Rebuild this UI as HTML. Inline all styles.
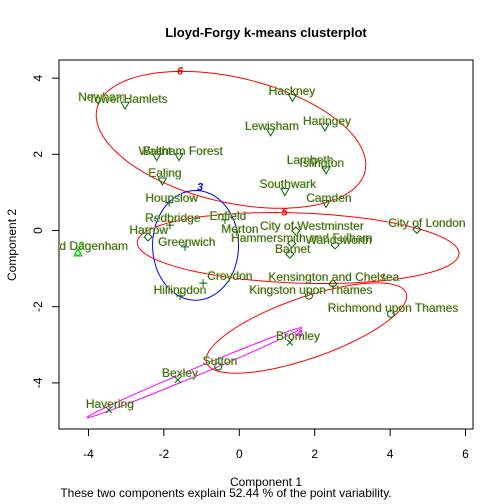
<!DOCTYPE html>
<html><head><meta charset="utf-8">
<style>
html,body{margin:0;padding:0;background:#fff;}
svg{display:block;font-family:"Liberation Sans",sans-serif;}
</style></head>
<body>
<svg id="chart" width="504" height="504" viewBox="0 0 504 504" xmlns="http://www.w3.org/2000/svg">
<defs><clipPath id="clip"><rect x="59" y="60" width="414" height="369"/></clipPath></defs>
<text x="266" y="37" text-anchor="middle" font-size="13" font-weight="bold">Lloyd-Forgy k-means clusterplot</text>
<rect x="59" y="60" width="414" height="369" fill="none" stroke="#000" stroke-width="1"/>
<g id="axes"></g>
<g id="ellipses" clip-path="url(#clip)"></g>
<g id="points" clip-path="url(#clip)"></g>
<g id="labels" clip-path="url(#clip)"></g>
<text x="266" y="486" text-anchor="middle" font-size="12">Component 1</text>
<text transform="translate(16,245) rotate(-90)" text-anchor="middle" font-size="12">Component 2</text>
<text x="226" y="497" text-anchor="middle" font-size="12">These two components explain 52.44 % of the point variability.</text>
</svg>
<script>
const xTicks = [-4, -2, 0, 2, 4, 6];
const yTicks = [-4, -2, 0, 2, 4];
const names = ["Newham","Tower Hamlets","Hackney","Lewisham","Haringey","Waltham Forest","Brent","Ealing","Lambeth","Islington","Southwark","Camden","Hounslow","Redbridge","Enfield","Greenwich","Merton","Croydon","Hillingdon","Harrow","City of Westminster","Hammersmith and Fulham","Barnet","Wandsworth","City of London","Kensington and Chelsea","Kingston upon Thames","Richmond upon Thames","Sutton","Barking and Dagenham","Bromley","Bexley","Havering"];
const cluster = [6,6,6,6,6,6,6,6,6,6,6,6,3,3,3,3,3,3,3,5,5,5,5,5,5,5,1,1,1,2,4,4,4];
const comp1 = [-3.74,-3.03,1.41,0.83,2.27,-1.6,-2.19,-2.04,2.0,2.3,1.21,2.3,-1.86,-1.84,-0.38,-1.44,-0.07,-0.96,-1.57,-2.42,1.5,1.39,1.34,2.54,4.71,2.48,1.85,4.02,-0.56,-4.28,1.34,-1.63,-3.46];
const comp2 = [3.42,3.29,3.49,2.59,2.72,1.94,1.94,1.3,1.8,1.59,1.02,0.71,0.73,0.14,0.28,-0.43,-0.03,-1.38,-1.72,-0.17,-0.01,-0.34,-0.62,-0.38,0.03,-1.4,-1.71,-2.19,-3.57,-0.59,-2.94,-3.92,-4.71];
const labX = [-3.64,-2.95,1.40,0.87,2.33,-1.55,-2.18,-1.97,1.88,2.19,1.29,2.38,-1.79,-1.76,-0.30,-1.39,0.02,-0.25,-1.57,-2.40,1.93,1.66,1.42,2.64,4.98,2.51,1.90,4.08,-0.51,-4.62,1.56,-1.57,-3.43];
const labY = [3.50,3.45,3.66,2.74,2.87,2.09,2.09,1.51,1.85,1.77,1.22,0.85,0.85,0.33,0.38,-0.30,0.04,-1.19,-1.56,0.01,0.12,-0.20,-0.49,-0.25,0.20,-1.22,-1.56,-2.03,-3.43,-0.41,-2.77,-3.74,-4.55];
const ellId = [6, 5, 3, 1, 2, 4];
const ellCx = [-0.22, 1.56, -1.16, 1.78, -4.28, -1.19];
const ellCy = [2.38, -0.46, -0.39, -2.56, -0.59, -3.73];
const ellA = [3.65, 4.27, 1.14, 2.8, 0.06, 3.08];
const ellB = [1.64, 0.92, 1.44, 0.8, 0.06, 0.1];
const ellAng = [-13, -2, 0, 19, 0, 22.5];
const ellLabX = [-1.57, 1.2, -1.04, 3.81, -4.2, 1.6];
const ellLabY = [4.2, 0.5, 1.15, -1.22, -0.38, -2.7];
const ellColor = {6:"#ff0000",5:"#ff0000",3:"#0000ff",1:"#ff0000",2:"#00dd00",4:"#ff00ff"};

const X = v => 239.3 + v * 37.7;
const Y = v => 230.5 - v * 38.1;
const NS = "http://www.w3.org/2000/svg";
function mk(tag, attrs, parent){const e=document.createElementNS(NS,tag);for(const k in attrs)e.setAttribute(k,attrs[k]);parent.appendChild(e);return e;}

const axes = document.getElementById('axes');
xTicks.forEach(t => {
  const l = mk('line',{x1:X(t),x2:X(t),y1:429,y2:436,stroke:'#000'},axes);
  
  
  const tx = mk('text',{x:X(t),y:458,'text-anchor':'middle','font-size':12},axes);
  tx.textContent = t;
  
  
});
yTicks.forEach(t => {
  const l = mk('line',{x1:52,x2:59,y1:Y(t),y2:Y(t),stroke:'#000'},axes);
  
  
  const tx = mk('text',{transform:`translate(42,${Y(t)}) rotate(-90)`,'text-anchor':'middle','font-size':12},axes);
  tx.textContent = t;
  
  
});

const eg = document.getElementById('ellipses');
ellId.forEach((id,i) => {
  const th = ellAng[i]*Math.PI/180; let d='';
  for(let k=0;k<=120;k++){
    const t=k/120*2*Math.PI;
    const dx=ellA[i]*Math.cos(t), dy=ellB[i]*Math.sin(t);
    const x=ellCx[i]+dx*Math.cos(th)-dy*Math.sin(th);
    const y=ellCy[i]+dx*Math.sin(th)+dy*Math.cos(th);
    d+=(k?'L':'M')+X(x).toFixed(1)+','+Y(y).toFixed(1);
  }
  const p = mk('path',{d:d+'Z',fill:'none',stroke:ellColor[id],'stroke-width':1},eg);
  
  
  const tx = mk('text',{x:X(ellLabX[i]),y:Y(ellLabY[i])+4,'text-anchor':'middle','font-size':11,'font-weight':'bold','font-style':'italic',fill:ellColor[id]},eg);
  tx.textContent = id;
  
  
});

const pg = document.getElementById('points');
function marker(c,x,y){
  const col = c===2 ? '#00bb00' : '#006400';
  const a={fill:'none',stroke:col,'stroke-width':1};
  let d;
  if(c===6) d=`M${x-4},${y-3}L${x+4},${y-3}L${x},${y+4}Z`;
  else if(c===3) d=`M${x-4},${y}L${x+4},${y}M${x},${y-4}L${x},${y+4}`;
  else if(c===5) d=`M${x},${y-4}L${x+4},${y}L${x},${y+4}L${x-4},${y}Z`;
  else if(c===4) d=`M${x-3},${y-3}L${x+3},${y+3}M${x-3},${y+3}L${x+3},${y-3}`;
  else if(c===2) d=`M${x-4},${y+3}L${x+4},${y+3}L${x},${y-4}Z`;
  else { a.cx=x;a.cy=y;a.r=3.5; return mk('circle',a,pg); }
  a.d=d; return mk('path',a,pg);
}
const lg = document.getElementById('labels');
names.forEach((n,i) => {
  const m = marker(cluster[i], X(comp1[i]), Y(comp2[i]));
  
  
  const sh = mk('text',{x:X(labX[i])-0.8,y:Y(labY[i])+4-0.6,'text-anchor':'middle','font-size':12,fill:'#d8d070'},lg);
  sh.textContent = n;
  
  
  const tx = mk('text',{x:X(labX[i]),y:Y(labY[i])+4,'text-anchor':'middle','font-size':12,fill:'#2a6a2a'},lg);
  tx.textContent = n;
  
  
});
</script>
</body></html>
